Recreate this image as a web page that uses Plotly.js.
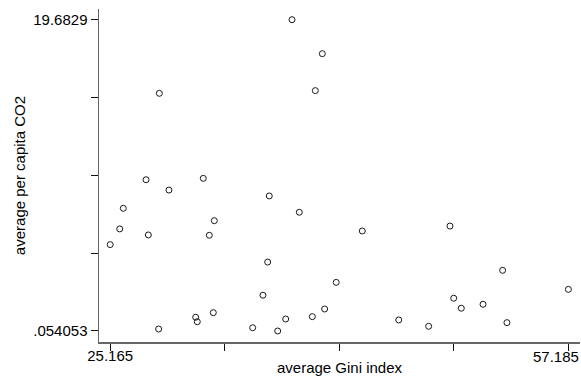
<!DOCTYPE html>
<html>
<head>
<meta charset="utf-8">
<script src="https://cdn.plot.ly/plotly-3.0.1.min.js"></script>
<style>html,body{margin:0;padding:0;background:#fff;}#chart{width:581px;height:383px;}</style>
</head>
<body>
<div id="chart"></div>
<script>
// average Gini index
var gini = [37.87, 39.99, 28.60, 39.50, 27.67, 29.27, 31.67, 26.08, 25.83, 27.83,
            25.165, 32.44, 32.09, 36.28, 38.38, 42.78, 48.91, 36.17, 52.59, 40.96,
            35.84, 57.185, 49.17, 49.70, 51.22, 40.15, 32.37, 31.14, 31.25, 28.55,
            35.12, 36.87, 37.43, 39.29, 45.33, 47.42, 52.89];
// average per capita CO2
var co2 = [19.6829, 17.54, 15.04, 15.21, 9.59, 8.94, 9.68, 7.79, 6.49, 6.11,
           5.50, 7.01, 6.09, 8.57, 7.54, 6.36, 6.67, 4.40, 3.88, 3.12,
           2.31, 2.68, 2.12, 1.49, 1.74, 1.44, 1.21, 0.92, 0.64, 0.18,
           0.26, 0.054053, 0.81, 0.96, 0.75, 0.35, 0.58];

var xTickVals = [25.165, 33.17, 41.175, 49.18, 57.185];
var xTickText = ["25.165", "", "", "", "57.185"];
var yTickVals = [0.054053, 4.961265, 9.868477, 14.775688, 19.6829];
var yTickText = [".054053", "", "", "", "19.6829"];

var font = {family: "Liberation Sans, Arial, sans-serif", size: 15, color: "#000"};

var trace = {
  x: gini, y: co2, type: "scatter", mode: "markers",
  marker: {symbol: "circle-open", size: 6, color: "#1a1a1a", line: {width: 1, color: "#1a1a1a"}},
  hoverinfo: "none"
};

// last x tick label is pushed left to stay inside the figure (as in the original)
var lastIdx = xTickVals.length - 1;
var xTextShown = xTickText.slice();
xTextShown[lastIdx] = "";

var layout = {
  width: 581, height: 383,
  margin: {l: 99, r: 1, t: 9, b: 41, pad: 0},
  paper_bgcolor: "#fff", plot_bgcolor: "#fff",
  showlegend: false,
  font: font,
  xaxis: {
    range: [24.382, 57.996], showgrid: false, zeroline: false,
    showline: true, linecolor: "#666", linewidth: 1.5,
    ticks: "outside", ticklen: 7, tickwidth: 1, tickcolor: "#111",
    tickmode: "array", tickvals: xTickVals, ticktext: xTextShown,
    ticklabelstandoff: -8,
    tickfont: font,
    title: {text: "average Gini index", font: font, standoff: 0}
  },
  yaxis: {
    range: [-0.64, 20.357], showgrid: false, zeroline: false,
    showline: true, linecolor: "#666", linewidth: 1.5,
    ticks: "outside", ticklen: 7, tickwidth: 1, tickcolor: "#111",
    tickmode: "array", tickvals: yTickVals, ticktext: yTickText,
    tickfont: font,
    title: {text: "average per capita CO2", font: font, standoff: 4}
  },
  annotations: [{
    x: xTickVals[lastIdx], xref: "x", y: 0, yref: "paper",
    text: xTickText[lastIdx], showarrow: false,
    xanchor: "right", yanchor: "top", xshift: 13, yshift: -4,
    font: font
  }]
};

Plotly.newPlot("chart", [trace], layout, {staticPlot: true, displayModeBar: false});
</script>
</body>
</html>
